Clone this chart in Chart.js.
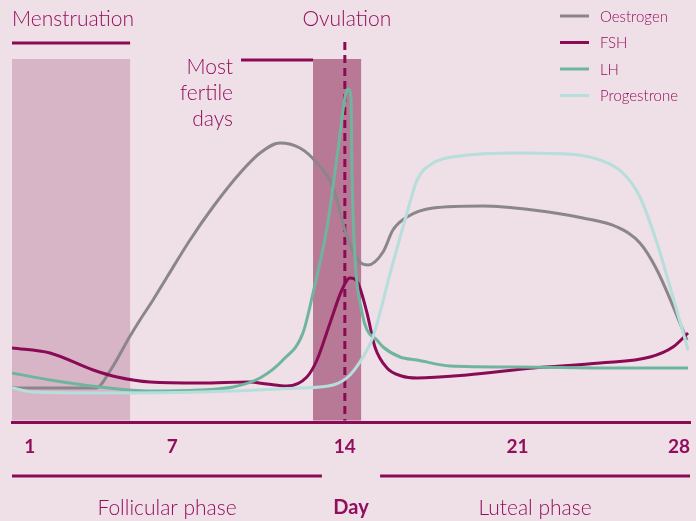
<!DOCTYPE html>
<html>
<head>
<meta charset="utf-8">
<script src="https://cdn.jsdelivr.net/npm/chart.js@4.4.1/dist/chart.umd.min.js"></script>
<style>
  html, body { margin: 0; padding: 0; background: #efdfe6; }
  #wrap { width: 696px; height: 521px; }
</style>
</head>
<body>
<div id="wrap"><canvas id="cycleChart" width="696" height="521"></canvas></div>
<script>
// giorni del ciclo e livelli ormonali
const tickDays = [1, 7, 14, 21, 28];

const oestrogenDays = [0.5, 3.9, 4.5, 5.29, 5.69, 6.22, 6.79, 7.72, 8.65, 9.75, 10.56, 11.37, 12.18, 12.87, 13.52, 14.09, 14.61, 14.94, 15.55, 15.95, 16.52, 17.58, 19.6, 21.63, 23.66, 25.04, 25.97, 26.66, 27.88];
const oestrogenLevels = [8.5, 8.5, 13, 21.5, 25.5, 30.5, 36.25, 45.5, 53.75, 62.25, 67.25, 69.75, 68.5, 64.75, 58.75, 46.25, 40, 39.25, 42.5, 48, 51.25, 53.5, 54, 53, 51, 48.75, 44.75, 38, 20.5];

const fshDays = [0.5, 2.04, 3.79, 4.76, 6.1, 8.13, 10.15, 10.84, 11.65, 12.46, 12.87, 13.4, 13.88, 14.21, 14.53, 14.9, 15.22, 15.71, 16.3, 16.93, 18.95, 21.63, 24.35, 26.38, 27.31, 27.92];
const fshLevels = [18.5, 17.25, 13, 11.25, 10, 9.75, 10, 9.5, 9, 11.25, 15.5, 24.75, 33, 36, 34.75, 27.25, 18.75, 13.5, 11.5, 11, 11.75, 13.5, 14.75, 16.25, 18.75, 22.25];

const lhDays = [0.5, 2.04, 4.07, 6.1, 8.13, 9.46, 10.56, 11.49, 12.3, 12.71, 13.28, 13.72, 14.01, 14.13, 14.25, 14.29, 14.41, 14.7, 14.9, 15.3, 15.55, 16.24, 16.93, 18.27, 20.98, 25.04, 27.92];
const lhLevels = [12.25, 10.5, 8.75, 7.75, 8, 8.75, 11, 15.5, 22.25, 32.25, 48.75, 68, 81.25, 83.25, 81.25, 62.25, 41.25, 27.25, 23, 20.5, 18.75, 16.25, 15.5, 14, 13.75, 13.5, 13.5];

const progDays = [0.5, 1.35, 4.07, 8.13, 12.18, 13.52, 14.21, 14.9, 15.14, 15.95, 16.52, 16.93, 17.58, 18.67, 20.98, 23.01, 24.35, 25.28, 25.97, 26.66, 27.31, 27.92];
const progLevels = [8.5, 7.5, 7.25, 7.5, 8.5, 9.25, 11.75, 18, 21.25, 39.75, 52.25, 60.5, 64.75, 66.5, 67.25, 67, 65.5, 62.25, 56.25, 44.75, 31.25, 18];

// finestre del ciclo (in giorni)
const menstruationDays = [0.5, 5.29];
const fertileDays = [12.71, 14.66];
const ovulationDay = 14;
const follicularDays = [0.5, 13.07];
const lutealDays = [15.43, 28];

const magenta = '#8b0a55';
const textColor = '#930d5f';
const fontFam = 'Lato, "Open Sans", sans-serif';
const lightFont = '300 21px ' + fontFam;

function toPoints(days, levels) {
  return days.map((d, i) => ({ x: d, y: levels[i] }));
}

// sfondo, riquadri, linee e scritte
const decorPlugin = {
  id: 'decor',
  beforeDraw(chart) {
    const ctx = chart.ctx;
    ctx.save();
    ctx.fillStyle = '#efdfe6';
    ctx.fillRect(0, 0, chart.width, chart.height);
    ctx.restore();
  },
  beforeDatasetsDraw(chart) {
    const ctx = chart.ctx;
    const x = chart.scales.x;
    const y = chart.scales.y;
    const bottom = chart.chartArea.bottom - 1.5;
    const boxTop = y.getPixelForValue(90.75);
    ctx.save();
    // mestruazioni
    ctx.fillStyle = '#d8b5c6';
    let x0 = x.getPixelForValue(menstruationDays[0]);
    let x1 = x.getPixelForValue(menstruationDays[1]);
    ctx.fillRect(x0, boxTop, x1 - x0, bottom - boxTop);
    ctx.strokeStyle = magenta;
    ctx.lineWidth = 3;
    ctx.beginPath();
    ctx.moveTo(x0, y.getPixelForValue(94.75));
    ctx.lineTo(x1, y.getPixelForValue(94.75));
    ctx.stroke();
    ctx.fillStyle = textColor;
    ctx.font = lightFont;
    ctx.textAlign = 'center';
    ctx.textBaseline = 'middle';
    ctx.fillText('Menstruation', (x0 + x1) / 2 + 2, y.getPixelForValue(100.75));

    // giorni fertili
    ctx.fillStyle = '#b77996';
    x0 = x.getPixelForValue(fertileDays[0]);
    x1 = x.getPixelForValue(fertileDays[1]);
    ctx.fillRect(x0, boxTop, x1 - x0, bottom - boxTop);
    ctx.beginPath();
    ctx.moveTo(x0 - 72, y.getPixelForValue(90.5));
    ctx.lineTo(x0, y.getPixelForValue(90.5));
    ctx.stroke();
    ctx.fillStyle = textColor;
    ctx.textAlign = 'right';
    const tx = x0 - 80;
    ctx.fillText('Most', tx, y.getPixelForValue(88.75));
    ctx.fillText('fertile', tx, y.getPixelForValue(82.25));
    ctx.fillText('days', tx, y.getPixelForValue(75.75));

    // ovulazione
    const ox = x.getPixelForValue(ovulationDay);
    ctx.textAlign = 'center';
    ctx.fillText('Ovulation', ox + 2, y.getPixelForValue(100.75));
    ctx.setLineDash([8, 5]);
    ctx.beginPath();
    ctx.moveTo(ox, y.getPixelForValue(95));
    ctx.lineTo(ox, bottom);
    ctx.stroke();
    ctx.setLineDash([]);
    ctx.restore();
  },
  afterDraw(chart) {
    const ctx = chart.ctx;
    const x = chart.scales.x;
    ctx.save();
    // fasi sotto l'asse
    const ly = chart.chartArea.bottom + 54;
    ctx.strokeStyle = magenta;
    ctx.lineWidth = 3;
    [follicularDays, lutealDays].forEach(p => {
      ctx.beginPath();
      ctx.moveTo(x.getPixelForValue(p[0]), ly);
      ctx.lineTo(x.getPixelForValue(p[1]), ly);
      ctx.stroke();
    });
    ctx.fillStyle = textColor;
    ctx.font = lightFont;
    ctx.textAlign = 'center';
    ctx.textBaseline = 'middle';
    ctx.fillText('Follicular phase', 167, chart.chartArea.bottom + 86);
    ctx.fillText('Luteal phase', 535, chart.chartArea.bottom + 86);

    // legenda
    ctx.font = '300 15px ' + fontFam;
    ctx.textAlign = 'left';
    chart.data.datasets.forEach((ds, i) => {
      const yy = 16 + i * 26.5;
      ctx.strokeStyle = ds.borderColor;
      ctx.lineWidth = 3;
      ctx.beginPath();
      ctx.moveTo(560, yy);
      ctx.lineTo(589, yy);
      ctx.stroke();
      ctx.fillStyle = textColor;
      ctx.fillText(ds.label, 600, yy + 1);
    });
    ctx.restore();
  }
};

const chart = new Chart(document.getElementById('cycleChart'), {
  type: 'line',
  data: {
    datasets: [
      { label: 'Oestrogen', data: toPoints(oestrogenDays, oestrogenLevels), borderColor: '#8a8689', order: 4 },
      { label: 'FSH', data: toPoints(fshDays, fshLevels), borderColor: magenta, order: 3 },
      { label: 'LH', data: toPoints(lhDays, lhLevels), borderColor: '#6fb59d', order: 2 },
      { label: 'Progestrone', data: toPoints(progDays, progLevels), borderColor: '#b6dedc', order: 1 }
    ]
  },
  options: {
    responsive: false,
    animation: false,
    layout: { padding: { left: 12, right: 6, top: 0, bottom: 0 } },
    elements: {
      point: { radius: 0 },
      line: { borderWidth: 3, cubicInterpolationMode: 'monotone', fill: false }
    },
    plugins: { legend: { display: false }, tooltip: { enabled: false } },
    scales: {
      x: {
        type: 'linear',
        min: 0.5,
        max: 28,
        afterBuildTicks: axis => { axis.ticks = tickDays.map(v => ({ value: v })); },
        afterFit: axis => {
          axis.height = 99;
          axis.paddingLeft = 0;
          axis.paddingRight = 0;
        },
        grid: { display: false, drawTicks: false },
        border: { display: true, color: magenta, width: 3 },
        ticks: {
          color: textColor,
          padding: 13,
          maxRotation: 0,
          align: 'inner',
          font: { family: fontFam, size: 19, weight: 'bold' }
        },
        title: {
          display: true,
          text: 'Day',
          color: textColor,
          padding: { top: 0, bottom: 1 },
          font: { family: fontFam, size: 20, weight: 'bold' }
        }
      },
      y: { display: false, min: 0, max: 105.5 }
    }
  },
  plugins: [decorPlugin]
});
</script>
</body>
</html>
